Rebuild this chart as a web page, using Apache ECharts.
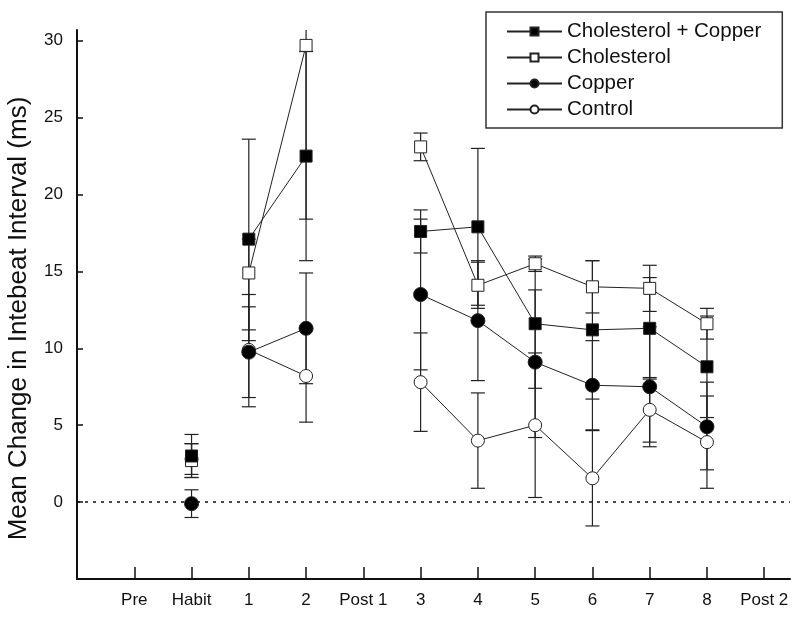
<!DOCTYPE html>
<html>
<head>
<meta charset="utf-8">
<script src="https://cdn.jsdelivr.net/npm/echarts@6/dist/echarts.min.js"></script>
<style>html,body{margin:0;padding:0;background:#fff;}#chart{width:800px;height:627px;}</style>
</head>
<body>
<div id="chart"></div>
<script>
// Categories along the x axis (positions 1..12)
const categories = ['Pre', 'Habit', '1', '2', 'Post 1', '3', '4', '5', '6', '7', '8', 'Post 2'];
// Lines are not drawn across these category boundaries
const breakAfter = ['Habit'];

// Series means (null = no measurement)
const cholCopper = [null, 3.0, 17.1, 22.5, null, 17.6, 17.9, 11.6, 11.2, 11.3, 8.8, null];
const cholesterol = [null, 2.7, 14.9, 29.7, null, 23.1, 14.1, 15.5, 14.0, 13.9, 11.6, null];
const copper = [null, -0.1, 9.75, 11.3, null, 13.5, 11.8, 9.1, 7.6, 7.5, 4.9, null];
const control = [null, 2.8, 9.9, 8.2, null, 7.8, 4.0, 5.0, 1.55, 6.0, 3.9, null];

// Error bar bounds (upper / lower)
const cholCopperHi = [null, 4.4, 23.6, 29.3, null, 19.0, 23.0, 15.8, 15.7, 14.6, 12.1, null];
const cholCopperLo = [null, 1.6, 10.5, 15.7, null, 16.2, 12.8, 7.4, 6.7, 8.0, 5.5, null];
const cholesterolHi = [null, 3.8, 17.1, 41.0, null, 24.0, 15.6, 16.0, 15.7, 15.4, 12.6, null];
const cholesterolLo = [null, 1.6, 11.2, 18.4, null, 22.2, 12.6, 15.0, 12.3, 12.4, 10.6, null];
const copperHi = [null, 0.8, 12.7, 14.9, null, 18.4, 15.7, 13.8, 10.5, 11.4, 7.8, null];
const copperLo = [null, -1.0, 6.8, 7.7, null, 8.6, 7.9, 4.2, 4.7, 3.6, 2.1, null];
const controlHi = [null, 3.8, 13.5, 11.2, null, 11.0, 7.1, 9.7, 4.65, 8.1, 6.9, null];
const controlLo = [null, 1.8, 6.2, 5.2, null, 4.6, 0.9, 0.3, -1.55, 3.9, 0.9, null];

// Y axis ticks
const yTicks = [0, 5, 10, 15, 20, 25, 30];
const yTitle = 'Mean Change in Intebeat Interval (ms)';

function lineData(vals) {
  const out = [];
  vals.forEach((v, i) => {
    out.push([i + 1, v === null ? '-' : v]);
    if (breakAfter.indexOf(categories[i]) >= 0) out.push([i + 1.5, '-']);
  });
  return out;
}
function errData(hi, lo) {
  const out = [];
  hi.forEach((h, i) => { if (h !== null) out.push([i + 1, lo[i], h]); });
  return out;
}
const C = '#222';
function errSeries(name, hi, lo) {
  return {
    type: 'custom', name: name + ' err', clip: true, z: 1, silent: true,
    data: errData(hi, lo),
    renderItem: function (params, api) {
      const x = api.value(0);
      const p1 = api.coord([x, api.value(1)]);
      const p2 = api.coord([x, api.value(2)]);
      const w = 7;
      const st = { stroke: C, lineWidth: 1.2 };
      return {
        type: 'group', children: [
          { type: 'line', shape: { x1: p1[0], y1: p1[1], x2: p2[0], y2: p2[1] }, style: st },
          { type: 'line', shape: { x1: p1[0] - w, y1: p1[1], x2: p1[0] + w, y2: p1[1] }, style: st },
          { type: 'line', shape: { x1: p2[0] - w, y1: p2[1], x2: p2[0] + w, y2: p2[1] }, style: st }
        ]
      };
    }
  };
}
function lineSeries(name, vals, symbol, size, fill, z) {
  return {
    type: 'line', name: name, data: lineData(vals), connectNulls: false,
    symbol: symbol, symbolSize: size, showAllSymbol: true, z: z,
    lineStyle: { color: C, width: 1 },
    itemStyle: { color: fill, borderColor: C, borderWidth: 1 },
    emphasis: { disabled: true }
  };
}

const chart = echarts.init(document.getElementById('chart'), null, { renderer: 'canvas' });
chart.setOption({
  animation: false,
  backgroundColor: '#fff',
  grid: { left: 77, right: 10, top: 30, bottom: 48, outerBoundsMode: 'none', containLabel: false },
  legend: {
    orient: 'vertical', left: 486, top: 12,
    data: ['Cholesterol + Copper', 'Cholesterol', 'Copper', 'Control'],
    borderColor: '#333', borderWidth: 1.5, backgroundColor: '#fff',
    padding: [9, 21, 8, 20], itemGap: 5, itemWidth: 55, itemHeight: 10,
    textStyle: { fontFamily: 'Liberation Sans, Arial, sans-serif', fontSize: 20.5, color: '#111' }
  },
  xAxis: {
    type: 'value', min: 0, max: 12.45, interval: 1,
    axisLine: { onZero: false, lineStyle: { color: '#111', width: 2 } },
    axisTick: { inside: true, length: 12, lineStyle: { color: '#111', width: 1.5 } },
    splitLine: { show: false },
    axisLabel: {
      margin: 13, fontFamily: 'Liberation Sans, Arial, sans-serif', fontSize: 17, color: '#111',
      showMaxLabel: false,
      formatter: function (v) { const i = Math.round(v) - 1; return (Math.abs(v - Math.round(v)) < 1e-6 && i >= 0 && i < categories.length) ? categories[i] : ''; }
    }
  },
  yAxis: {
    type: 'value', min: -5, max: 30.7, interval: 5,
    name: yTitle, nameLocation: 'middle', nameGap: 45,
    nameTextStyle: { fontFamily: 'Liberation Sans, Arial, sans-serif', fontSize: 26, color: '#111', padding: [0, 28, 0, 0] },
    axisLine: { onZero: false, lineStyle: { color: '#111', width: 2 } },
    axisTick: { inside: true, length: 6, lineStyle: { color: '#111', width: 1.5 } },
    splitLine: { show: false },
    axisLabel: {
      margin: 14, fontFamily: 'Liberation Sans, Arial, sans-serif', fontSize: 17, color: '#111',
      showMaxLabel: false,
      formatter: function (v) { return yTicks.indexOf(v) >= 0 ? String(v) : ''; }
    }
  },
  series: [
    errSeries('Control', controlHi, controlLo),
    errSeries('Copper', copperHi, copperLo),
    errSeries('Cholesterol', cholesterolHi, cholesterolLo),
    errSeries('Cholesterol + Copper', cholCopperHi, cholCopperLo),
    Object.assign(lineSeries('Control', control, 'circle', 13, '#fff', 3), {
      markLine: {
        silent: true, symbol: 'none', label: { show: false },
        lineStyle: { color: '#111', type: [3, 5], width: 1.5 },
        data: [{ yAxis: 0 }]
      }
    }),
    lineSeries('Copper', copper, 'circle', 14, '#000', 4),
    lineSeries('Cholesterol', cholesterol, 'rect', 12, '#fff', 5),
    lineSeries('Cholesterol + Copper', cholCopper, 'rect', 12, '#000', 6)
  ]
});
</script>
</body>
</html>
